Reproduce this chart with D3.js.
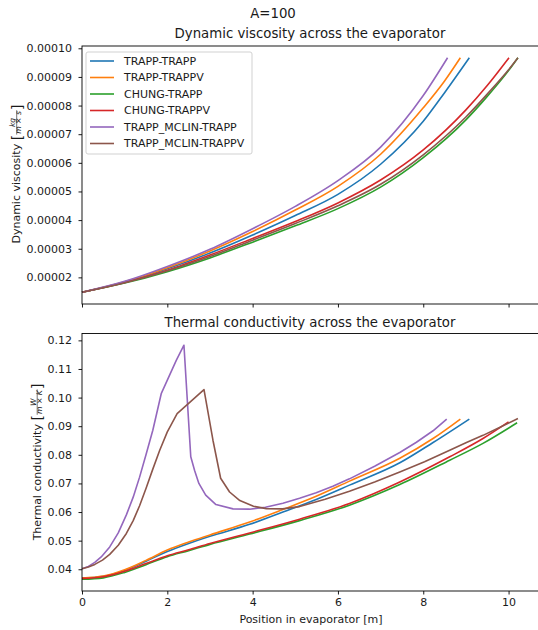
<!DOCTYPE html>
<html>
<head>
<meta charset="utf-8">
<script src="https://cdn.jsdelivr.net/npm/d3@7"></script>
<style>
  body { margin: 0; background: #fff; }
  svg { display: block; font-family: "DejaVu Sans", sans-serif; }
</style>
</head>
<body>
<svg id="c" width="538" height="630"></svg>
<script>
const seriesNames = ["TRAPP-TRAPP", "TRAPP-TRAPPV", "CHUNG-TRAPP", "CHUNG-TRAPPV", "TRAPP_MCLIN-TRAPP", "TRAPP_MCLIN-TRAPPV"];
const seriesColors = ["#1f77b4", "#ff7f0e", "#2ca02c", "#d62728", "#9467bd", "#8c564b"];

// dynamic viscosity, [position in m, value in kg/(m x s)]
const viscTrappTrapp = [[0, 1.48e-5], [1, 1.84e-5], [2, 2.30e-5], [3, 2.85e-5], [4, 3.48e-5], [5, 4.16e-5], [6, 4.90e-5], [7, 5.95e-5], [8, 7.45e-5], [8.5, 8.45e-5], [9.08, 9.67e-5]];
const viscTrappTrappv = [[0, 1.48e-5], [1, 1.85e-5], [2, 2.34e-5], [3, 2.92e-5], [4, 3.60e-5], [5, 4.35e-5], [6, 5.18e-5], [7, 6.30e-5], [8, 7.92e-5], [8.5, 8.86e-5], [8.87, 9.67e-5]];
const viscChungTrapp = [[0, 1.48e-5], [1, 1.80e-5], [2, 2.20e-5], [3, 2.68e-5], [4, 3.23e-5], [5, 3.80e-5], [6, 4.40e-5], [7, 5.15e-5], [8, 6.18e-5], [9, 7.50e-5], [9.5, 8.32e-5], [10, 9.22e-5], [10.22, 9.67e-5]];
const viscChungTrappv = [[0, 1.48e-5], [1, 1.82e-5], [2, 2.25e-5], [3, 2.78e-5], [4, 3.36e-5], [5, 3.95e-5], [6, 4.60e-5], [7, 5.40e-5], [8, 6.45e-5], [9, 7.85e-5], [9.5, 8.70e-5], [10.01, 9.67e-5]];
const viscMclinTrapp = [[0, 1.48e-5], [1, 1.86e-5], [2, 2.38e-5], [3, 2.98e-5], [4, 3.70e-5], [5, 4.48e-5], [6, 5.38e-5], [7, 6.55e-5], [8, 8.35e-5], [8.57, 9.67e-5]];
const viscMclinTrappv = [[0, 1.48e-5], [1, 1.81e-5], [2, 2.23e-5], [3, 2.73e-5], [4, 3.30e-5], [5, 3.88e-5], [6, 4.50e-5], [7, 5.25e-5], [8, 6.28e-5], [9, 7.60e-5], [9.5, 8.40e-5], [10, 9.25e-5], [10.22, 9.67e-5]];

// thermal conductivity, [position in m, value in W/(m x K)]
const condTrappTrapp = [[0, 0.0368], [0.5, 0.0375], [1, 0.0396], [1.5, 0.0428], [2, 0.0462], [2.5, 0.0490], [3, 0.0515], [3.93, 0.0557], [4.71, 0.0600], [5.49, 0.0644], [6.27, 0.0694], [7.45, 0.0772], [8.23, 0.0843], [9.08, 0.0925]];
const condTrappTrappv = [[0, 0.0369], [0.5, 0.0376], [1, 0.0398], [1.5, 0.0431], [2, 0.0467], [2.5, 0.0495], [3, 0.0520], [3.93, 0.0565], [4.71, 0.0609], [5.49, 0.0655], [6.27, 0.0708], [7.45, 0.0788], [8.23, 0.0857], [8.87, 0.0925]];
const condChungTrapp = [[0, 0.0365], [0.5, 0.0370], [1, 0.0389], [1.5, 0.0416], [2, 0.0444], [2.5, 0.0465], [3, 0.0487], [3.93, 0.0523], [5.1, 0.0570], [6.27, 0.0624], [7.45, 0.0696], [8.62, 0.0781], [9.4, 0.0840], [10.2, 0.0912]];
const condChungTrappv = [[0, 0.0368], [0.5, 0.0374], [1, 0.0393], [1.5, 0.0420], [2, 0.0447], [2.5, 0.0468], [3, 0.0490], [3.93, 0.0527], [5.1, 0.0575], [6.27, 0.0630], [7.45, 0.0705], [8.62, 0.0793], [9.4, 0.0857], [10.0, 0.0915]];
const condMclinTrapp = [[0, 0.0402], [0.15, 0.0410], [0.3, 0.0424], [0.45, 0.0443], [0.65, 0.0478], [0.85, 0.0527], [1.04, 0.0590], [1.2, 0.0652], [1.35, 0.0722], [1.5, 0.0800], [1.66, 0.0886], [1.86, 0.1015], [2.21, 0.1130], [2.39, 0.1183], [2.55, 0.0793], [2.64, 0.0745], [2.74, 0.0700], [2.9, 0.0659], [3.14, 0.0626], [3.54, 0.0611], [3.93, 0.0610], [4.3, 0.0617], [4.71, 0.0631], [5.1, 0.0648], [5.49, 0.0667], [5.88, 0.0690], [6.27, 0.0716], [6.86, 0.0760], [7.45, 0.0808], [7.84, 0.0844], [8.23, 0.0884], [8.55, 0.0925]];
const condMclinTrappv = [[0, 0.0402], [0.15, 0.0408], [0.3, 0.0417], [0.48, 0.0432], [0.65, 0.0452], [0.85, 0.0484], [1.04, 0.0525], [1.2, 0.0570], [1.35, 0.0622], [1.5, 0.0682], [1.66, 0.0750], [1.82, 0.0815], [2.0, 0.0880], [2.23, 0.0944], [2.86, 0.1028], [3.07, 0.0851], [3.25, 0.0718], [3.46, 0.0670], [3.7, 0.0640], [4.02, 0.0620], [4.32, 0.0612], [4.7, 0.0611], [5.1, 0.0619], [5.7, 0.0645], [6.27, 0.0673], [6.86, 0.0705], [7.45, 0.0740], [8.03, 0.0776], [8.62, 0.0816], [9.0, 0.0842], [9.4, 0.0868], [9.8, 0.0896], [10.22, 0.0927]];

const viscSeries = [viscTrappTrapp, viscTrappTrappv, viscChungTrapp, viscChungTrappv, viscMclinTrapp, viscMclinTrappv];
const condSeries = [condTrappTrapp, condTrappTrappv, condChungTrapp, condChungTrappv, condMclinTrapp, condMclinTrappv];

const xTicks = [0, 2, 4, 6, 8, 10];
const viscTicks = [2e-5, 3e-5, 4e-5, 5e-5, 6e-5, 7e-5, 8e-5, 9e-5, 1e-4];
const condTicks = [0.04, 0.05, 0.06, 0.07, 0.08, 0.09, 0.10, 0.11, 0.12];

const svg = d3.select("#c");
const textColor = "#1a1a1a";

const x = d3.scaleLinear().domain([0, 10.69]).range([82, 538]);
const yVisc = d3.scaleLinear().domain([1.07e-5, 1.008e-4]).range([304, 46]);
const yCond = d3.scaleLinear().domain([0.0324, 0.1224]).range([591, 333.5]);

function styleAxis(sel) {
  sel.attr("font-family", null).attr("font-size", 11);
  sel.select(".domain").remove();
  sel.selectAll(".tick line").attr("stroke", "#000").attr("stroke-width", 0.9);
  sel.selectAll(".tick text").attr("fill", textColor);
}

function drawPanel(yScale, yTicks, yFmt, series, curves, showXText) {
  const [yb, yt] = yScale.range();
  const g = svg.append("g");

  series.forEach((data, i) => {
    const line = d3.line()
      .x(d => x(d[0]))
      .y(d => yScale(d[1]))
      .curve(curves[i]);
    g.append("path")
      .datum(data)
      .attr("fill", "none")
      .attr("stroke", seriesColors[i])
      .attr("stroke-width", 1.6)
      .attr("stroke-linejoin", "round")
      .attr("d", line);
  });

  // frame (right spine lies outside the picture)
  g.append("rect")
    .attr("x", 82).attr("y", yt)
    .attr("width", 470).attr("height", yb - yt)
    .attr("fill", "none").attr("stroke", "#000").attr("stroke-width", 0.9);

  const xAxis = d3.axisBottom(x).tickValues(xTicks).tickSize(3.5).tickPadding(3.5)
    .tickFormat(showXText ? d3.format("d") : "");
  g.append("g").attr("transform", `translate(0,${yb})`).call(xAxis).call(styleAxis);

  const yAxis = d3.axisLeft(yScale).tickValues(yTicks).tickSize(3.5).tickPadding(6.5).tickFormat(yFmt);
  g.append("g").attr("transform", "translate(82,0)").call(yAxis).call(styleAxis);
}

// y label with a bracketed fraction unit, like matplotlib mathtext
function yLabel(cx, cy, main, num, den) {
  const g = svg.append("g").attr("fill", textColor);
  const t = g.append("text").attr("font-size", 11).text(main);
  let pos = t.node().getComputedTextLength() + 3.5;

  const lb = g.append("text").attr("x", pos).attr("y", 1.5).attr("font-size", 14).text("[");
  pos += lb.node().getComputedTextLength() + 0.3;

  const numT = g.append("text").attr("font-size", 7.7).attr("y", -5)
    .attr("font-style", "italic").attr("text-anchor", "middle").text(num);
  const denT = g.append("text").attr("font-size", 7.7).attr("y", 1.2).attr("text-anchor", "middle");
  denT.append("tspan").attr("font-style", "italic").text(den[0]);
  denT.append("tspan").text(" \u00d7 ");
  denT.append("tspan").attr("font-style", "italic").text(den[1]);

  const fw = Math.max(numT.node().getComputedTextLength(), denT.node().getComputedTextLength()) + 1.5;
  numT.attr("x", pos + fw / 2);
  denT.attr("x", pos + fw / 2);
  g.append("line")
    .attr("x1", pos).attr("x2", pos + fw)
    .attr("y1", -3.3).attr("y2", -3.3)
    .attr("stroke", textColor).attr("stroke-width", 0.6);
  pos += fw + 0.3;

  const rb = g.append("text").attr("x", pos).attr("y", 1.5).attr("font-size", 14).text("]");
  pos += rb.node().getComputedTextLength();

  g.attr("transform", `translate(${cx},${cy}) rotate(-90) translate(${-pos / 2},0)`);
}

// titles
svg.append("text").attr("x", 273).attr("y", 18).attr("text-anchor", "middle")
  .attr("font-size", 13.3).attr("fill", textColor).text("A=100");
svg.append("text").attr("x", 310).attr("y", 38).attr("text-anchor", "middle")
  .attr("font-size", 13.3).attr("fill", textColor).text("Dynamic viscosity across the evaporator");
svg.append("text").attr("x", 310).attr("y", 326.5).attr("text-anchor", "middle")
  .attr("font-size", 13.3).attr("fill", textColor).text("Thermal conductivity across the evaporator");

const smooth = d3.curveMonotoneX;
drawPanel(yVisc, viscTicks, d3.format(".5f"), viscSeries, [smooth, smooth, smooth, smooth, smooth, smooth], false);
drawPanel(yCond, condTicks, d3.format(".2f"), condSeries, [smooth, smooth, smooth, smooth, d3.curveLinear, d3.curveLinear], true);

yLabel(20, 174, "Dynamic viscosity", "kg", ["m", "s"]);
yLabel(40.5, 462, "Thermal conductivity", "W", ["m", "K"]);

svg.append("text").attr("x", 311).attr("y", 622.5).attr("text-anchor", "middle")
  .attr("font-size", 11).attr("fill", textColor).text("Position in evaporator [m]");

// legend
const legend = svg.append("g");
legend.append("rect")
  .attr("x", 86).attr("y", 52).attr("width", 166).attr("height", 102).attr("rx", 2)
  .attr("fill", "#fff").attr("fill-opacity", 0.8)
  .attr("stroke", "#cccccc").attr("stroke-width", 0.9);
seriesNames.forEach((name, i) => {
  const yy = 61 + i * 16.5;
  legend.append("line")
    .attr("x1", 90).attr("x2", 114).attr("y1", yy).attr("y2", yy)
    .attr("stroke", seriesColors[i]).attr("stroke-width", 1.6);
  legend.append("text")
    .attr("x", 124).attr("y", yy + 3.9)
    .attr("font-size", 11).attr("fill", textColor).text(name);
});
</script>
</body>
</html>
